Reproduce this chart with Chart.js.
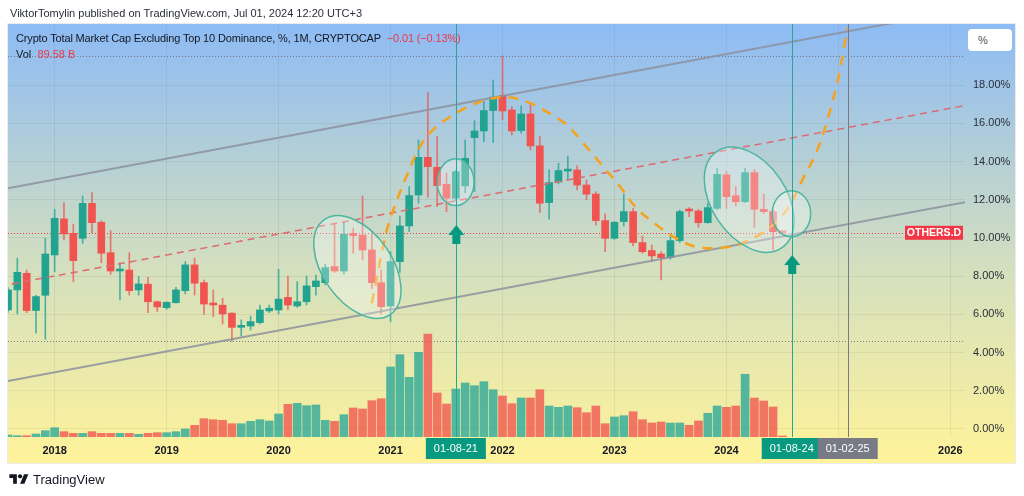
<!doctype html>
<html lang="en">
<head>
  <meta charset="utf-8">
  <title>OTHERS.D</title>
  <script src="https://cdn.jsdelivr.net/npm/chart.js@4.4.1/dist/chart.umd.min.js"></script>
  <style>
    html, body { margin: 0; padding: 0; background: #fff; }
    body { width: 1024px; height: 496px; position: relative; overflow: hidden; font-family: "Liberation Sans", Arial, sans-serif; }
    #chart { position: absolute; left: 0; top: 0; }
    .txt { position: absolute; white-space: nowrap; }
    #byline { left: 10px; top: 7px; font-size: 11px; color: #2a2e39; }
    #title { left: 16px; top: 32px; font-size: 11px; letter-spacing: -0.15px; color: #131722; }
    #vol { left: 16px; top: 48px; font-size: 11px; color: #131722; }
    .red { color: #f23645; }
    #unit { left: 968px; top: 29px; width: 44px; height: 22px; background: #fff; border-radius: 4px; font-size: 11px; color: #50535e; line-height: 22px; text-indent: 10px; }
    #brand { left: 9px; top: 472px; font-size: 13px; color: #131722; display: flex; align-items: center; gap: 4px; }
  </style>
</head>
<body>
  <canvas id="chart" width="1024" height="496"></canvas>
  <div class="txt" id="byline">ViktorTomylin published on TradingView.com, Jul 01, 2024 12:20 UTC+3</div>
  <div class="txt" id="title">Crypto Total Market Cap Excluding Top 10 Dominance, %, 1M, CRYPTOCAP&nbsp; <span class="red">−0.01 (−0.13%)</span></div>
  <div class="txt" id="vol">Vol&nbsp; <span class="red">89.58 B</span></div>
  <div class="txt" id="unit">%</div>
  <div class="txt" id="brand">
    <svg width="20" height="15" viewBox="0 0 36 28"><path d="M14 22H7V11H0V4h14v18z" fill="#131722"/><circle cx="20" cy="8" r="4" fill="#131722"/><path d="M28 22h-8l7.5-18h8L28 22z" fill="#131722"/></svg>
    <span>TradingView</span>
  </div>
<script>
  // months counted from Jan 2018 = 0, first candle is Aug 2017
  const firstMonth = -5;

  // monthly OHLC, % dominance
  const openP = [6.23, 7.28, 8.15, 6.20, 7.00, 9.11, 11.00, 10.24, 9.98, 11.81, 10.82, 9.23,
    8.27, 8.32, 7.28, 7.58, 6.66, 6.35, 6.61, 7.24, 8.59, 7.66, 6.54, 6.48,
    6.06, 5.32, 5.39, 5.57, 6.18, 6.23, 6.89, 6.44, 6.66, 7.45, 7.66, 8.50,
    8.27, 10.24, 10.15, 9.37, 7.66, 6.44, 8.76, 10.63, 12.25, 14.22, 13.70, 12.81,
    12.08, 12.72, 15.25, 15.60, 16.67, 17.45, 16.70, 15.62, 16.49, 14.82, 11.85, 12.93,
    13.50, 13.56, 12.77, 12.30, 10.91, 9.98, 10.86, 11.38, 9.76, 9.34, 9.16, 8.99,
    9.86, 11.47, 11.41, 10.80, 11.55, 13.30, 12.21, 11.90, 13.42, 11.50, 11.38, 10.28];
  const highP = [7.40, 8.94, 8.32, 7.00, 9.98, 11.50, 11.85, 10.72, 12.20, 12.37, 10.90, 10.38,
    8.71, 9.23, 7.98, 7.94, 6.70, 6.66, 7.42, 8.76, 8.94, 7.80, 7.28, 6.84,
    6.09, 5.71, 5.91, 6.49, 6.49, 8.36, 8.01, 7.71, 8.01, 8.06, 8.62, 10.77,
    10.85, 10.51, 12.20, 10.33, 8.32, 9.28, 11.15, 12.69, 15.13, 17.61, 15.31, 13.39,
    13.55, 15.13, 16.14, 17.14, 18.27, 19.53, 16.88, 16.91, 17.05, 15.31, 13.56, 13.91,
    14.29, 13.77, 13.04, 12.42, 11.26, 10.86, 12.30, 11.55, 10.10, 9.63, 9.28, 10.07,
    11.47, 11.59, 11.50, 11.82, 13.65, 13.47, 12.69, 13.65, 13.59, 12.30, 11.50, 10.33];
  const lowP = [6.10, 6.02, 6.09, 5.01, 4.69, 8.24, 9.90, 7.71, 9.72, 10.28, 8.71, 8.10,
    6.75, 7.01, 7.01, 6.09, 6.15, 6.26, 6.58, 7.07, 7.01, 6.00, 5.88, 5.50,
    4.61, 4.87, 5.18, 5.50, 6.09, 6.02, 6.26, 6.37, 6.49, 7.01, 7.54, 8.20,
    8.10, 9.20, 8.85, 7.36, 6.02, 5.62, 8.19, 10.33, 11.82, 12.13, 11.64, 11.38,
    11.95, 12.37, 12.42, 15.04, 15.00, 16.18, 15.39, 15.48, 14.61, 11.33, 10.98, 12.83,
    13.07, 12.51, 12.00, 10.68, 9.28, 9.93, 10.63, 9.58, 9.20, 8.76, 7.80, 8.89,
    9.76, 11.12, 10.56, 10.77, 11.47, 11.55, 11.68, 11.85, 10.56, 11.29, 9.37, 10.24];
  const closeP = [7.28, 8.20, 6.20, 6.93, 9.16, 11.03, 10.21, 8.81, 11.81, 10.80, 9.20, 8.27,
    8.32, 7.24, 7.59, 6.66, 6.39, 6.63, 7.28, 8.59, 7.63, 6.54, 6.49, 6.02,
    5.32, 5.39, 5.62, 6.23, 6.32, 6.80, 6.49, 6.66, 7.49, 7.75, 8.45, 8.27,
    10.19, 10.12, 9.37, 7.66, 6.40, 8.76, 10.63, 12.22, 14.22, 13.73, 12.74, 12.08,
    13.47, 14.17, 15.60, 16.67, 17.37, 16.65, 15.60, 16.49, 14.82, 11.82, 12.90, 13.53,
    13.56, 12.77, 12.29, 10.91, 9.98, 10.82, 11.38, 9.76, 9.28, 9.06, 8.97, 9.86,
    11.38, 11.41, 10.80, 11.59, 13.33, 12.16, 11.90, 13.42, 11.50, 11.38, 10.33, 10.27];
  // volume, billions
  const volumeB = [174, 113, 113, 261, 548, 809, 461, 322, 322, 461, 322, 322,
    322, 322, 235, 322, 374, 374, 461, 696, 1018, 1592, 1505, 1453,
    1157, 1157, 1366, 1505, 1392, 2001, 2845, 2932, 2723, 2784, 1453, 1366,
    1940, 2523, 2436, 3158, 3332, 6090, 7160, 5194, 7369, 8961, 3828, 2871,
    4176, 4698, 4463, 4811, 4115, 3567, 2897, 3393, 3393, 4115, 2697, 2584,
    2697, 2549, 2114, 2697, 1157, 1740, 1853, 2201, 1505, 1218, 1305, 1218,
    1218, 1018, 1392, 2062, 2697, 2584, 2697, 5455, 3393, 3132, 2610, 89.58];

  const yearTicks = [0, 12, 24, 36, 48, 60, 72, 84, 96];
  const yearLabels = ['2018', '2019', '2020', '2021', '2022', '2023', '2024', '2025', '2026'];
  const priceTicks = [0, 2, 4, 6, 8, 10, 12, 14, 16, 18];

  // drawings, [month, %]
  const channelUpper = [[-5, 12.60], [90, 21.27]];
  const channelLower = [[-5, 2.51], [97.6, 11.87]];
  const channelMid = [[-4.6, 7.59], [97.35, 16.91]];
  const cycleCurve = [[33.98, 6.58], [34.51, 7.80], [35.05, 9.21], [35.76, 10.68], [36.83, 12.16],
    [37.55, 13.04], [39.15, 14.78], [40.76, 15.76], [42.72, 16.44], [44.33, 16.87],
    [46.30, 17.23], [48.45, 17.37], [50.59, 17.14], [52.73, 16.61], [54.88, 15.92],
    [56.66, 14.96], [58.80, 13.73], [60.59, 12.69], [62.38, 11.55], [64.52, 10.68],
    [66.30, 10.07], [68.45, 9.58], [70.95, 9.46], [73.45, 9.69], [76.31, 10.42],
    [78.46, 11.47], [80.24, 13.13], [81.67, 14.52], [82.92, 16.35], [83.99, 18.36],
    [84.78, 20.46], [85.0, 21.0]];
  // centre month, centre %, semi axes (in months), tilt degrees
  const ellipses = [
    {m: 32.45, v: 8.48, a: 6.19, b: 3.71, rot: 55},
    {m: 42.98, v: 12.92, a: 1.97, b: 2.5, rot: 0},
    {m: 74.44, v: 12.0, a: 6.23, b: 4.0, rot: 56},
    {m: 78.97, v: 11.27, a: 2.06, b: 2.47, rot: 0}
  ];
  const arrows = [{m: 43, v: 10.68}, {m: 79, v: 9.11}];
  const markers = [
    {m: 43, text: '01-08-21', color: '#089981', line: '#26a69a'},
    {m: 79, text: '01-08-24', color: '#089981', line: '#26a69a'},
    {m: 85, text: '01-02-25', color: '#787b86', line: '#787b86'}
  ];
  const symbolName = 'OTHERS.D';

  const monthX = openP.map((_, i) => firstMonth + i);
  const up = closeP.map((c, i) => c >= openP[i]);
  const pts = arr => arr.map(p => ({x: p[0], y: p[1]}));

  Chart.defaults.font.family = '"Liberation Sans", Arial, sans-serif';

  const background = {
    id: 'background',
    beforeDraw(chart) {
      const {ctx, chartArea: a} = chart;
      const right = a.right + chart.scales.y.width;
      const bottom = a.bottom + chart.scales.x.height;
      ctx.save();
      ctx.fillStyle = '#fff';
      ctx.fillRect(0, 0, chart.width, chart.height);
      const g = ctx.createLinearGradient(0, a.top, 0, bottom);
      g.addColorStop(0, '#8dbbf4');
      g.addColorStop(0.55, '#d3dfbf');
      g.addColorStop(1, '#fff39a');
      ctx.fillStyle = g;
      ctx.fillRect(a.left, a.top, right - a.left, bottom - a.top);
      ctx.strokeStyle = 'rgba(0,0,0,0.08)';
      ctx.strokeRect(a.left - 0.5, a.top - 0.5, right - a.left + 1, bottom - a.top + 1);
      ctx.restore();
    }
  };

  const drawings = {
    id: 'drawings',
    beforeDatasetsDraw(chart) {
      const {ctx, chartArea: a, scales: {y}} = chart;
      ctx.save();
      ctx.lineWidth = 1;
      ctx.setLineDash([1, 2]);
      ctx.strokeStyle = 'rgba(110,113,124,0.9)';
      [Math.max(...highP), Math.min(...lowP)].forEach(v => {
        const yy = Math.round(y.getPixelForValue(v)) + 0.5;
        ctx.beginPath(); ctx.moveTo(a.left, yy); ctx.lineTo(a.right, yy); ctx.stroke();
      });
      ctx.strokeStyle = '#f23645';
      const ly = Math.round(y.getPixelForValue(closeP[closeP.length - 1])) + 0.5;
      ctx.beginPath(); ctx.moveTo(a.left, ly); ctx.lineTo(a.right - 60, ly); ctx.stroke();
      ctx.restore();
    },
    afterDatasetsDraw(chart) {
      const {ctx, chartArea: a, scales: {x, y}} = chart;
      const pxm = x.getPixelForValue(1) - x.getPixelForValue(0);
      ctx.save();
      ctx.beginPath(); ctx.rect(a.left, a.top, a.right - a.left, a.bottom - a.top); ctx.clip();
      ellipses.forEach(e => {
        ctx.beginPath();
        ctx.ellipse(x.getPixelForValue(e.m), y.getPixelForValue(e.v), e.a * pxm, e.b * pxm, e.rot * Math.PI / 180, 0, Math.PI * 2);
        ctx.fillStyle = 'rgba(255,255,255,0.3)';
        ctx.fill();
        ctx.lineWidth = 1.5;
        ctx.strokeStyle = '#4db6a2';
        ctx.stroke();
      });
      markers.forEach(mk => {
        const xx = Math.round(x.getPixelForValue(mk.m)) + 0.5;
        ctx.strokeStyle = mk.line;
        ctx.lineWidth = 1;
        ctx.beginPath(); ctx.moveTo(xx, a.top); ctx.lineTo(xx, a.bottom); ctx.stroke();
      });
      ctx.fillStyle = '#089981';
      arrows.forEach(ar => {
        const xx = x.getPixelForValue(ar.m) + 0.5, yy = y.getPixelForValue(ar.v);
        ctx.beginPath();
        ctx.moveTo(xx, yy);
        ctx.lineTo(xx + 8, yy + 10);
        ctx.lineTo(xx + 4, yy + 10);
        ctx.lineTo(xx + 4, yy + 19);
        ctx.lineTo(xx - 4, yy + 19);
        ctx.lineTo(xx - 4, yy + 10);
        ctx.lineTo(xx - 8, yy + 10);
        ctx.closePath();
        ctx.fill();
      });
      ctx.restore();

      // symbol label on the last price line
      const ly = y.getPixelForValue(closeP[closeP.length - 1]);
      ctx.save();
      ctx.fillStyle = '#f23645';
      ctx.fillRect(a.right - 60, ly - 7, 58, 14);
      ctx.fillStyle = '#fff';
      ctx.font = 'bold 10.5px "Liberation Sans", Arial, sans-serif';
      ctx.textAlign = 'center';
      ctx.textBaseline = 'middle';
      ctx.fillText(symbolName, a.right - 31, ly + 0.5);
      ctx.restore();
    },
    afterDraw(chart) {
      const {ctx, chartArea: a, scales: {x}} = chart;
      ctx.save();
      ctx.font = '11px "Liberation Sans", Arial, sans-serif';
      ctx.textAlign = 'center';
      ctx.textBaseline = 'middle';
      markers.forEach(mk => {
        const xx = x.getPixelForValue(mk.m);
        ctx.fillStyle = mk.color;
        ctx.fillRect(xx - 30, a.bottom + 1, 60, 21);
        ctx.fillStyle = '#fff';
        ctx.fillText(mk.text, xx, a.bottom + 12);
      });
      ctx.restore();
    }
  };

  const config = {
    type: 'bar',
    data: {
      datasets: [
        {
          type: 'line', label: 'cycle', data: pts(cycleCurve),
          borderColor: '#f7a21b', borderWidth: 2.5, borderDash: [10, 8],
          pointRadius: 0, tension: 0.35, order: 1
        },
        {
          type: 'line', label: 'mid', data: pts(channelMid),
          borderColor: '#de6a6e', borderWidth: 1.5, borderDash: [7, 5],
          pointRadius: 0, order: 2
        },
        {
          type: 'line', label: 'upper', data: pts(channelUpper),
          borderColor: 'rgba(140,144,158,0.85)', borderWidth: 2, pointRadius: 0, order: 3
        },
        {
          type: 'line', label: 'lower', data: pts(channelLower),
          borderColor: 'rgba(140,144,158,0.85)', borderWidth: 2, pointRadius: 0, order: 3
        },
        {
          label: 'body', data: monthX.map((m, i) => ({x: m, y: [openP[i], closeP[i]]})),
          backgroundColor: up.map(u => u ? '#22a38f' : '#f05350'),
          barThickness: 7, minBarLength: 2, grouped: false, order: 5
        },
        {
          label: 'wick', data: monthX.map((m, i) => ({x: m, y: [lowP[i], highP[i]]})),
          backgroundColor: up.map(u => u ? 'rgba(38,166,154,0.8)' : 'rgba(239,83,80,0.75)'),
          barThickness: 1, grouped: false, order: 6
        },
        {
          label: 'volume', data: monthX.map((m, i) => ({x: m, y: volumeB[i]})),
          yAxisID: 'yv',
          backgroundColor: up.map(u => u ? 'rgba(38,166,154,0.78)' : 'rgba(239,83,80,0.78)'),
          barThickness: 8, grouped: false, order: 10
        }
      ]
    },
    options: {
      responsive: false,
      animation: false,
      events: [],
      layout: { padding: { left: 8, top: 24, right: 9, bottom: 33 } },
      plugins: { legend: { display: false }, tooltip: { enabled: false } },
      scales: {
        x: {
          type: 'linear', min: -5, max: 97.57, offset: false,
          grid: { color: 'rgba(42,46,57,0.07)', drawTicks: false, offset: false },
          border: { display: false },
          ticks: {
            padding: 7, color: '#131722', autoSkip: false, maxRotation: 0,
            font: { size: 11, weight: 'bold' },
            callback: v => yearLabels[yearTicks.indexOf(v)] || ''
          },
          afterBuildTicks: s => { s.ticks = yearTicks.map(v => ({value: v})); },
          afterFit: s => { s.height = 26; }
        },
        y: {
          type: 'linear', position: 'right', min: -0.42, max: 21.2,
          grid: { color: 'rgba(42,46,57,0.07)', drawTicks: false },
          border: { display: false },
          ticks: { padding: 8, color: '#2a2e39', font: { size: 11 }, callback: v => v.toFixed(2) + '%' },
          afterBuildTicks: s => { s.ticks = priceTicks.map(v => ({value: v})); },
          afterFit: s => { s.width = 50; }
        },
        yv: { type: 'linear', display: false, min: 0, max: 35930 }
      }
    },
    plugins: [background, drawings]
  };

  new Chart(document.getElementById('chart'), config);
</script>
</body>
</html>
